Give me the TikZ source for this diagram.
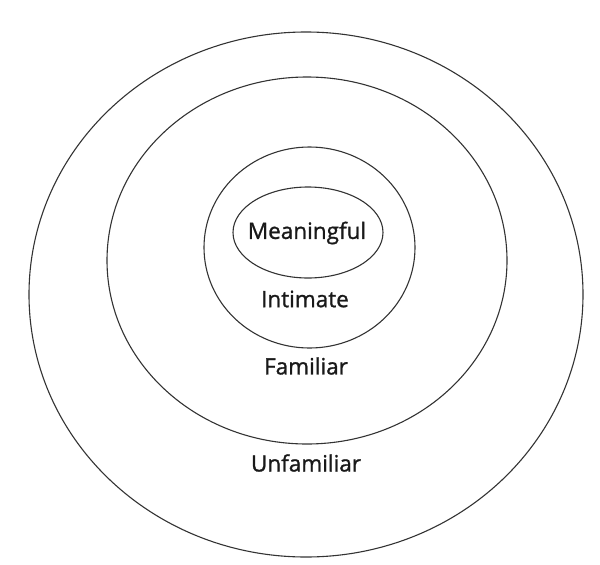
\documentclass[tikz,border=0pt]{standalone}
\usepackage{fontspec}
\setmainfont{Open Sans}[FakeBold=1.2]
\begin{document}
\begin{tikzpicture}[x=1pt,y=-1pt,
  ring/.style={draw=black!80, line width=1.1pt},
  lbl/.style={font=\fontsize{22.5}{26}\selectfont, text=black!90, inner sep=0pt}]
\useasboundingbox (0,0) rectangle (600,565);
\draw[ring] (306,294.5) ellipse [x radius=277, y radius=262.5];
\draw[ring] (307,260.5) ellipse [x radius=200, y radius=183.5];
\draw[ring] (309.5,247.5) ellipse [x radius=105.5, y radius=100.5];
\draw[ring] (308,232.5) ellipse [x radius=75, y radius=45.5];
\node[lbl] (meaningful) at (307,233) {Meaningful};
\node[lbl] (intimate) at (305,299) {Intimate};
\node[lbl] (familiar) at (306,366) {Familiar};
\node[lbl] (unfamiliar) at (306,463) {Unfamiliar};
\end{tikzpicture}
\end{document}
